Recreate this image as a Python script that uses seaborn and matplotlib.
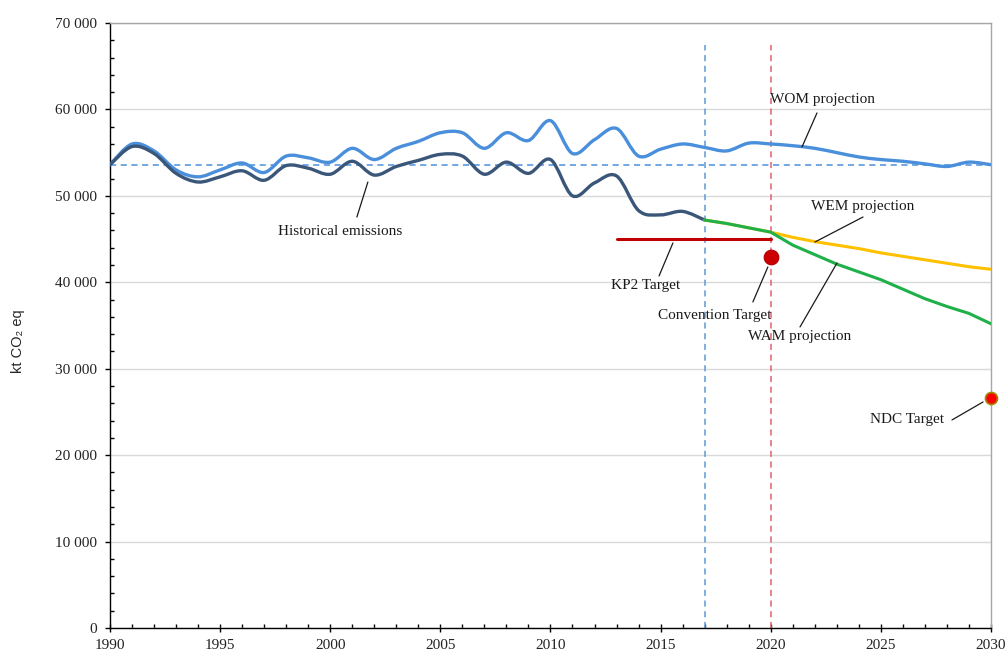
import numpy as np
import pandas as pd
import matplotlib
matplotlib.use("Agg")
import matplotlib.pyplot as plt
import seaborn as sns
from matplotlib.path import Path
from matplotlib.patches import PathPatch
from matplotlib.ticker import MultipleLocator, FuncFormatter

# ---- data (kt CO2 eq) ----
hist_years = list(range(1990, 2018))
hist_values = [53600, 55700, 54900, 52600, 51600, 52200, 52900, 51800, 53500, 53200,
               52500, 54000, 52400, 53400, 54100, 54800, 54600, 52500, 53900, 52600,
               54200, 50000, 51500, 52300, 48300, 47800, 48200, 47200]

wom_years = list(range(1990, 2031))
wom_values = [53600, 56000, 55200, 53000, 52200, 53000, 53800, 52700, 54600, 54400,
              53900, 55500, 54200, 55500, 56300, 57300, 57300, 55500, 57300, 56400,
              58700, 54900, 56500, 57800, 54600, 55400, 56000, 55600, 55200, 56100,
              56000, 55800, 55500, 55000, 54500, 54200, 54000, 53700, 53400, 53900,
              53600]

proj_years = list(range(2017, 2031))
wem_values = [47200, 46800, 46300, 45800, 45200, 44700, 44300, 43900, 43400, 43000,
              42600, 42200, 41800, 41500]
wam_values = [47200, 46800, 46300, 45800, 44300, 43200, 42100, 41200, 40300, 39200,
              38100, 37200, 36400, 35200]

base_year_value = 53550
kp2_years = [2013, 2020]
kp2_value = 45000
convention_year = 2020
convention_value = 42900
ndc_year = 2030
ndc_value = 26600
marker_years = [2017, 2020]

# ---- style ----
sns.set_theme(style="white")
plt.rcParams["font.family"] = ["Liberation Serif", "DejaVu Serif"]

C_WOM = "#4a8fdb"
C_HIST = "#3a5678"
C_WEM = "#ffc000"
C_WAM = "#1fb04a"
C_RED = "#c00000"


def smooth_path(xs, ys):
    """Cubic Bezier path passing through every point (Catmull-Rom tangents)."""
    p = np.column_stack([xs, ys]).astype(float)
    ext = np.vstack([p[0], p, p[-1]])
    verts = [p[0]]
    codes = [Path.MOVETO]
    for i in range(len(p) - 1):
        p0, p1, p2, p3 = ext[i], ext[i + 1], ext[i + 2], ext[i + 3]
        c1 = p1 + (p2 - p0) / 6.0
        c2 = p2 - (p3 - p1) / 6.0
        verts += [c1, c2, p2]
        codes += [Path.CURVE4] * 3
    return Path(verts, codes)


fig = plt.figure(figsize=(10.08, 6.53), dpi=100)
ax = fig.add_axes([0.1091, 0.0383, 0.8740, 0.9265])

ax.set_xlim(1990, 2030)
ax.set_ylim(0, 70000)

# horizontal grid
ax.yaxis.set_major_locator(MultipleLocator(10000))
ax.yaxis.set_minor_locator(MultipleLocator(2000))
ax.xaxis.set_major_locator(MultipleLocator(5))
ax.xaxis.set_minor_locator(MultipleLocator(1))
ax.grid(axis="y", which="major", color="#d9d9d9", lw=1.0, zorder=0)
ax.set_axisbelow(True)

# reference lines
ax.axhline(base_year_value, color=C_WOM, lw=1.1, ls=(0, (4, 3)), zorder=2)
ax.vlines(marker_years[0], 0, 67500, color="#5b9bd5", lw=1.1, ls=(0, (4, 3)), zorder=2)
ax.vlines(marker_years[1], 0, 67500, color="#e06070", lw=1.1, ls=(0, (4, 3)), zorder=2)

# smoothed emission curves
ax.add_patch(PathPatch(smooth_path(wom_years, wom_values), fill=False,
                       edgecolor=C_WOM, lw=2.4, capstyle="round", zorder=3))
ax.add_patch(PathPatch(smooth_path(hist_years, hist_values), fill=False,
                       edgecolor=C_HIST, lw=2.4, capstyle="round", zorder=3))

# projections
proj = pd.DataFrame({"year": proj_years, "WEM": wem_values, "WAM": wam_values})
sns.lineplot(data=proj, x="year", y="WEM", color=C_WEM, lw=2.2, ax=ax, zorder=3)
sns.lineplot(data=proj, x="year", y="WAM", color=C_WAM, lw=2.2, ax=ax, zorder=4)

# targets
kp2 = pd.DataFrame({"year": kp2_years, "value": [kp2_value] * len(kp2_years)})
sns.lineplot(data=kp2, x="year", y="value", color=C_RED, lw=2.2, ax=ax, zorder=4)
sns.scatterplot(x=[convention_year], y=[convention_value], color="#cc0000",
                edgecolor="#b00000", s=110, ax=ax, zorder=6, clip_on=False)
sns.scatterplot(x=[ndc_year], y=[ndc_value], color="#ff0000",
                edgecolor="#a08a00", linewidth=1.2, s=75, ax=ax, zorder=6, clip_on=False)

# labels with leader lines
labels = [
    ("Historical emissions", (2000.44, 45900), (2001.71, 51600), (2001.21, 47550)),
    ("WOM projection", (2022.37, 61200), (2022.10, 59590), (2021.42, 55650)),
    ("WEM projection", (2024.19, 48710), (2024.19, 47550), (2022.01, 44660)),
    ("KP2 Target", (2014.34, 39570), (2015.56, 44550), (2014.93, 40730)),
    ("Convention Target", (2017.47, 36100), (2019.87, 41770), (2019.19, 37720)),
    ("WAM projection", (2021.33, 33670), (2023.01, 42230), (2021.33, 34830)),
    ("NDC Target", (2026.19, 24180), (2029.64, 26150), (2028.23, 24070)),
]
for text, (tx, ty), (x0, y0), (x1, y1) in labels:
    ax.plot([x0, x1], [y0, y1], color="#1a1a1a", lw=0.9, zorder=5)
    ax.text(tx, ty, text, ha="center", va="center", fontsize=11, color="#1a1a1a",
            zorder=7)

# axes
ax.set_xlabel("")
ax.set_ylabel("kt CO₂ eq", fontsize=10.5, family=["Liberation Sans", "DejaVu Sans"])
ax.yaxis.set_label_coords(-0.096, 0.474)
ax.yaxis.set_major_formatter(FuncFormatter(lambda v, _: f"{int(v):,}".replace(",", " ")))
ax.xaxis.set_major_formatter(FuncFormatter(lambda v, _: f"{int(v)}"))

for side in ("left", "bottom"):
    ax.spines[side].set_color("black")
    ax.spines[side].set_linewidth(1.0)
for side in ("top", "right"):
    ax.spines[side].set_color("#a6a6a6")
    ax.spines[side].set_linewidth(1.0)

ax.tick_params(axis="y", which="major", direction="out", length=3.6, width=1,
               color="black", labelsize=11, pad=5.5, left=True)
ax.tick_params(axis="y", which="minor", direction="in", length=3, width=1,
               color="black", left=True)
ax.tick_params(axis="x", which="major", direction="inout", length=5.5, width=1,
               color="black", labelsize=11, pad=5.5, bottom=True)
ax.tick_params(axis="x", which="minor", direction="in", length=3, width=1,
               color="black", bottom=True)
for lbl in ax.get_xticklabels() + ax.get_yticklabels():
    lbl.set_color("#222222")

fig.savefig("out.png", dpi=100)
